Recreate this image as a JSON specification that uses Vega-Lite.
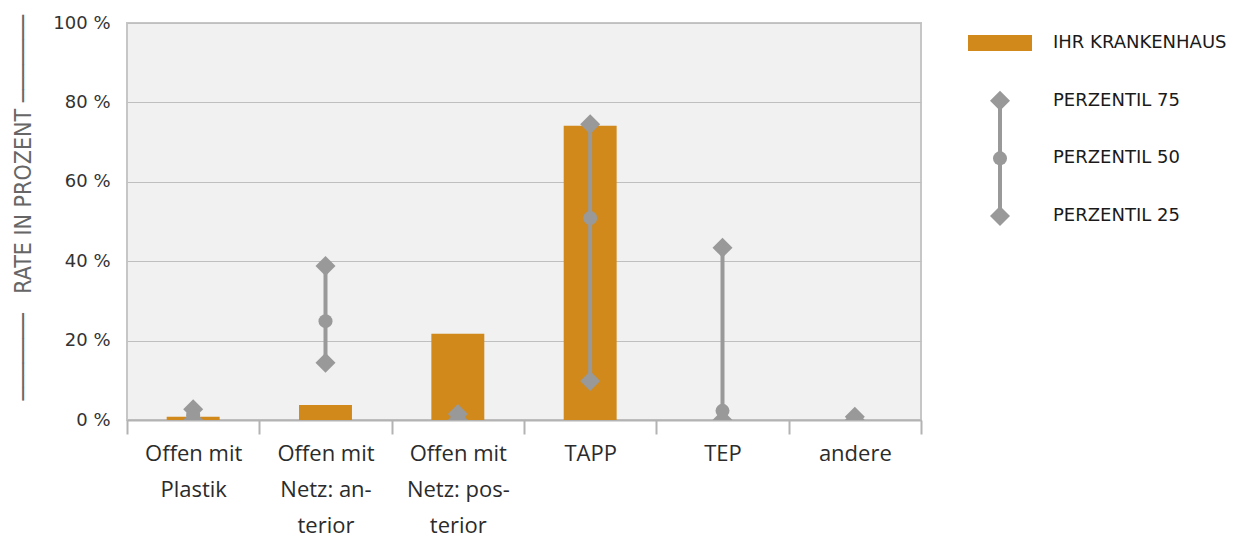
{
  "$schema": "https://vega.github.io/schema/vega-lite/v6.json",
  "background": "white",
  "padding": {"left": 11, "top": 13, "right": 2, "bottom": 0},
  "bounds": "flush",
  "spacing": 48,
  "config": {
    "view": {"stroke": null},
    "font": "DejaVu Sans"
  },
  "datasets": {
    "werte": [
      {"kategorie": "Offen mit Plastik", "haus": 0.8, "p75": 2.7, "p50": 1.2, "p25": 0},
      {"kategorie": "Offen mit Netz: anterior", "haus": 3.8, "p75": 38.8, "p50": 24.9, "p25": 14.4},
      {"kategorie": "Offen mit Netz: posterior", "haus": 21.7, "p75": 1.5, "p50": 0.5, "p25": 0},
      {"kategorie": "TAPP", "haus": 74.1, "p75": 74.5, "p50": 50.9, "p25": 9.8},
      {"kategorie": "TEP", "haus": 0, "p75": 43.4, "p50": 2.3, "p25": 0},
      {"kategorie": "andere", "haus": 0, "p75": 0.8, "p50": 0, "p25": 0}
    ],
    "legende": [
      {"eintrag": "IHR KRANKENHAUS", "art": "haus"},
      {"eintrag": "PERZENTIL 75", "art": "p75"},
      {"eintrag": "PERZENTIL 50", "art": "p50"},
      {"eintrag": "PERZENTIL 25", "art": "p25"}
    ]
  },
  "hconcat": [
    {
      "width": 794,
      "height": 397,
      "view": {"fill": "#f1f1f1", "stroke": "#c6c6c6", "strokeWidth": 2},
      "data": {"name": "werte"},
      "encoding": {
        "x": {
          "field": "kategorie",
          "type": "nominal",
          "sort": null,
          "scale": {"paddingInner": 0, "paddingOuter": 0},
          "axis": {
            "title": null,
            "labelAngle": 0,
            "tickBand": "extent",
            "tickSize": 14,
            "tickColor": "#b3b3b3",
            "tickWidth": 2,
            "domainColor": "#b3b3b3",
            "domainWidth": 2,
            "labelFont": "Open Sans",
            "labelFontSize": 22,
            "labelColor": "#2b2b2b",
            "labelLineHeight": 36,
            "labelPadding": 9,
            "labelExpr": "datum.value == 'Offen mit Plastik' ? ['Offen mit', 'Plastik'] : datum.value == 'Offen mit Netz: anterior' ? ['Offen mit', 'Netz: an-', 'terior'] : datum.value == 'Offen mit Netz: posterior' ? ['Offen mit', 'Netz: pos-', 'terior'] : datum.value"
          }
        }
      },
      "layer": [
        {
          "mark": {"type": "bar", "color": "#d0891a", "width": {"band": 0.4}},
          "encoding": {
            "y": {
              "field": "haus",
              "type": "quantitative",
              "scale": {"domain": [0, 100]},
              "axis": {
                "title": "\u2800\u00a0\u00a0───────\u00a0\u00a0\u00a0RATE IN PROZENT\u00a0───────",
                "titleFont": "DejaVu Sans Condensed, Liberation Sans Narrow, Liberation Sans, sans-serif",
                "titleFontSize": 23,
                "titleFontWeight": "normal",
                "titleColor": "#666666",
                "titlePadding": 17,
                "values": [0, 20, 40, 60, 80, 100],
                "labelExpr": "datum.value + ' %'",
                "labelFont": "DejaVu Sans",
                "labelFontSize": 18,
                "labelColor": "#333333",
                "labelPadding": 17,
                "ticks": false,
                "domain": false,
                "grid": true,
                "gridColor": "#bfbfbf",
                "gridWidth": 1
              }
            }
          }
        },
        {
          "mark": {"type": "rule", "color": "#999999", "strokeWidth": 4, "clip": true},
          "encoding": {
            "y": {"field": "p25", "type": "quantitative"},
            "y2": {"field": "p75"}
          }
        },
        {
          "transform": [{"fold": ["p75", "p25"], "as": ["reihe", "wert"]}],
          "mark": {"type": "point", "shape": "diamond", "filled": true, "size": 400, "color": "#999999", "opacity": 1, "clip": true},
          "encoding": {
            "y": {"field": "wert", "type": "quantitative"}
          }
        },
        {
          "mark": {"type": "point", "shape": "circle", "filled": true, "size": 196, "color": "#999999", "opacity": 1, "clip": true},
          "encoding": {
            "y": {"field": "p50", "type": "quantitative"}
          }
        }
      ]
    },
    {
      "width": 62,
      "height": 213,
      "data": {"name": "legende"},
      "encoding": {
        "y": {
          "field": "eintrag",
          "type": "nominal",
          "scale": {"type": "point", "padding": 0.347, "domain": ["IHR KRANKENHAUS", "PERZENTIL 75", "PERZENTIL 50", "PERZENTIL 25"]},
          "axis": null
        }
      },
      "layer": [
        {
          "transform": [{"filter": "datum.art == 'p50'"}],
          "mark": {"type": "rule", "color": "#999999", "strokeWidth": 4},
          "encoding": {
            "y": {"datum": "PERZENTIL 75", "type": "nominal"},
            "y2": {"datum": "PERZENTIL 25"}
          }
        },
        {
          "transform": [{"filter": "datum.art == 'haus'"}],
          "mark": {"type": "point", "shape": "M-1,-0.25H1V0.25H-1Z", "size": 4096, "filled": true, "color": "#d0891a", "opacity": 1},
          "encoding": {}
        },
        {
          "transform": [{"filter": "datum.art == 'p75' || datum.art == 'p25'"}],
          "mark": {"type": "point", "shape": "diamond", "size": 400, "filled": true, "color": "#999999", "opacity": 1},
          "encoding": {}
        },
        {
          "transform": [{"filter": "datum.art == 'p50'"}],
          "mark": {"type": "point", "shape": "circle", "size": 196, "filled": true, "color": "#999999", "opacity": 1},
          "encoding": {}
        },
        {
          "mark": {"type": "text", "align": "left", "baseline": "middle", "dx": 53, "font": "DejaVu Sans", "fontSize": 18, "color": "#1a1a1a"},
          "encoding": {"text": {"field": "eintrag"}}
        }
      ]
    }
  ]
}
